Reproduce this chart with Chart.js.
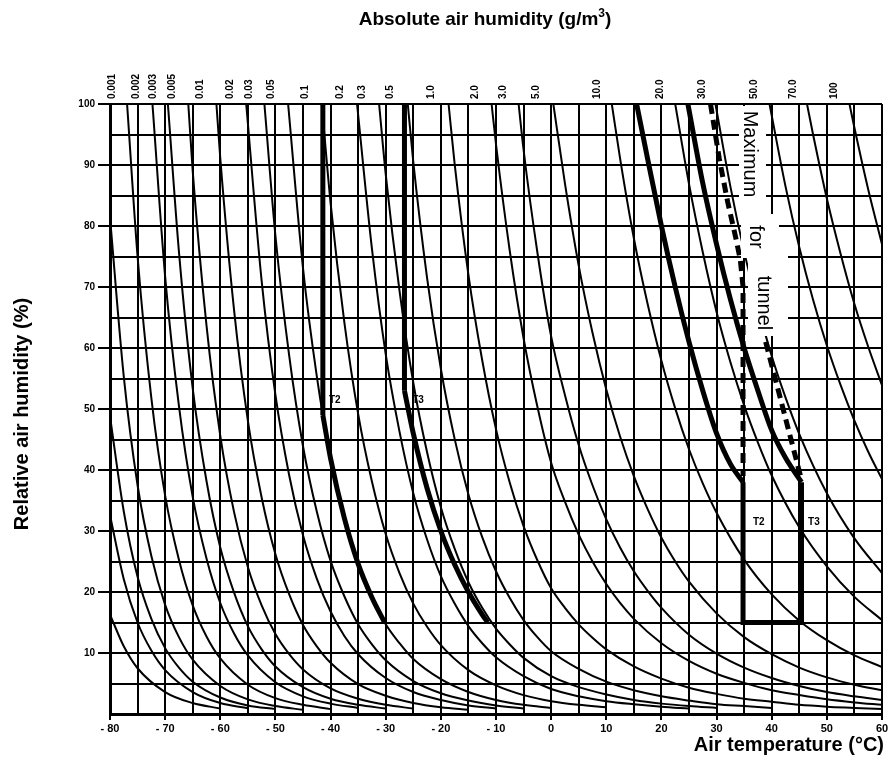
<!DOCTYPE html>
<html><head><meta charset="utf-8">
<script src="https://cdn.jsdelivr.net/npm/chart.js@4.4.1/dist/chart.umd.min.js"></script>
<style>html,body{margin:0;padding:0;background:#fff}#wrap{position:relative;width:894px;height:763px}</style>
</head><body><div id="wrap"><canvas id="c" width="894" height="763"></canvas></div>
<script>
// ---- data (air temperature °C, relative humidity %) ----
const topLabels = ['0.001','0.002','0.003','0.005','0.01','0.02','0.03','0.05','0.1','0.2','0.3','0.5','1.0','2.0','3.0','5.0','10.0','20.0','30.0','50.0','70.0','100'];
const topLabelPos = [-77.5,-73,-70,-66.5,-61.5,-56,-52.5,-48.5,-42.5,-36,-32,-27,-19.5,-11.5,-6.5,-0.5,10.5,22,29.5,39,46,53.5];

const ah00001 = [[-80,16.3],[-77.5,11.1],[-75,7.5],[-70,3.6],[-65,1.8],[-60,0.9]];
const ah00002 = [[-80,32.6],[-77.5,22.1],[-75,15.0],[-72.5,10.4],[-70,7.2],[-65,3.6],[-60,1.8],[-55,0.96]];
const ah00003 = [[-80,48.8],[-77.5,33.2],[-75,22.5],[-72.5,15.6],[-70,10.8],[-67.5,7.6],[-65,5.3],[-60,2.7],[-55,1.4],[-50,0.8]];
const ah00005 = [[-80,81.4],[-77.5,55.3],[-75,37.5],[-72.5,25.9],[-70,17.9],[-67.5,12.6],[-65,8.9],[-60,4.6],[-55,2.4],[-50,1.3],[-45,0.7]];
const ah0001 = [[-76.9,100],[-75,75],[-72.5,51.8],[-70,35.8],[-67.5,25.3],[-65,17.8],[-62.5,12.7],[-60,9.1],[-55,4.8],[-50,2.6],[-45,1.5],[-40,0.8]];
const ah0002 = [[-72.3,100],[-70,71.7],[-67.5,50.5],[-65,35.6],[-62.5,25.5],[-60,18.2],[-57.5,13.2],[-55,9.6],[-50,5.2],[-45,2.9],[-40,1.7],[-35,1.0]];
const ah0003 = [[-69.5,100],[-67.5,75.8],[-65,53.4],[-62.5,38.2],[-60,27.3],[-57.5,19.9],[-55,14.4],[-52.5,10.6],[-50,7.8],[-45,4.4],[-40,2.5],[-35,1.5],[-30,0.9]];
const ah0005 = [[-65.8,100],[-65,89],[-62.5,63.7],[-60,45.6],[-57.5,33.1],[-55,24.1],[-52.5,17.8],[-50,13.1],[-47.5,9.8],[-45,7.3],[-40,4.2],[-35,2.5],[-30,1.5],[-25,0.9]];
const ah001 = [[-60.7,100],[-60,91.1],[-57.5,66.2],[-55,48.1],[-52.5,35.5],[-50,26.2],[-47.5,19.6],[-45,14.6],[-42.5,11.1],[-40,8.4],[-35,4.9],[-30,3.0],[-25,1.8],[-20,1.1],[-15,0.7]];
const ah002 = [[-55.3,100],[-52.5,71.0],[-50,52.3],[-47.5,39.1],[-45,29.3],[-42.5,22.2],[-40,16.8],[-37.5,12.8],[-35,9.8],[-30,5.9],[-25,3.6],[-20,2.3],[-15,1.4],[-10,0.9]];
const ah003 = [[-52.0,100],[-50,78.4],[-47.5,58.7],[-45,43.9],[-42.5,33.2],[-40,25.1],[-37.5,19.3],[-35,14.7],[-32.5,11.4],[-30,8.8],[-25,5.4],[-20,3.4],[-15,2.2],[-10,1.4],[-5,0.9]];
const ah005 = [[-47.7,100],[-45,73.1],[-42.5,55.4],[-40,41.9],[-37.5,32.1],[-35,24.6],[-32.5,19.1],[-30,14.7],[-27.5,11.6],[-25,9.0],[-20,5.7],[-15,3.6],[-10,2.3],[-5,1.5],[0,1.0]];
const ah01 = [[-41.6,100],[-40,83.8],[-37.5,64.2],[-35,49.2],[-32.5,38.1],[-30,29.5],[-27.5,23.1],[-25,18.1],[-22.5,14.3],[-20,11.3],[-15,7.2],[-10,4.7],[-5,3.1],[0,2.1],[5,1.5],[10,1.1]];
const ah02 = [[-35.2,100],[-32.5,76.3],[-30,59.0],[-27.5,46.3],[-25,36.2],[-22.5,28.6],[-20,22.6],[-17.5,18.1],[-15,14.4],[-12.5,11.6],[-10,9.3],[-5,6.2],[0,4.1],[5,2.9],[10,2.1],[15,1.6],[20,1.2],[25,0.9]];
const ah03 = [[-31.2,100],[-30,88.5],[-27.5,69.4],[-25,54.3],[-22.5,42.9],[-20,33.9],[-17.5,27.1],[-15,21.6],[-12.5,17.4],[-10,14.0],[-7.5,11.4],[-5,9.2],[0,6.2],[5,4.4],[10,3.2],[15,2.3],[20,1.7],[25,1.3],[30,1.0]];
const ah05 = [[-26.0,100],[-25,90.5],[-22.5,71.5],[-20,56.6],[-17.5,45.1],[-15,36.0],[-12.5,29.0],[-10,23.4],[-7.5,19.0],[-5,15.4],[-2.5,12.6],[0,10.3],[5,7.4],[10,5.3],[15,3.9],[20,2.9],[25,2.2],[30,1.6],[35,1.3],[40,1.0]];
const ah1 = [[-18.6,100],[-17.5,90.2],[-15,72.0],[-12.5,58.0],[-10,46.7],[-7.5,37.9],[-5,30.8],[-2.5,25.2],[0,20.6],[2.5,17.4],[5,14.7],[7.5,12.5],[10,10.6],[15,7.8],[20,5.8],[25,4.3],[30,3.3],[35,2.5],[40,2.0],[45,1.5],[50,1.2],[55,1.0],[60,0.8]];
const ah2 = [[-10.8,100],[-10,93.4],[-7.5,75.9],[-5,61.6],[-2.5,50.4],[0,41.2],[2.5,34.8],[5,29.4],[7.5,25.0],[10,21.3],[12.5,18.2],[15,15.6],[20,11.6],[25,8.7],[30,6.6],[35,5.1],[40,3.9],[45,3.1],[50,2.4],[55,1.9],[60,1.5]];
const ah3 = [[-5.9,100],[-5,92.5],[-2.5,75.7],[0,61.9],[2.5,52.3],[5,44.1],[7.5,37.5],[10,31.9],[12.5,27.3],[15,23.4],[17.5,20.2],[20,17.4],[25,13.0],[30,9.9],[35,7.6],[40,5.9],[45,4.6],[50,3.6],[55,2.9],[60,2.3]];
const ah5 = [[0.4,100],[2.5,87.0],[5,73.5],[7.5,62.5],[10,53.2],[12.5,45.5],[15,39.0],[17.5,33.6],[20,28.9],[22.5,25.0],[25,21.7],[30,16.5],[35,12.6],[40,9.8],[45,7.6],[50,6.0],[55,4.8],[60,3.9]];
const ah10 = [[11.0,100],[12.5,91.1],[15,78.0],[17.5,67.2],[20,57.9],[22.5,50.1],[25,43.4],[27.5,37.8],[30,33.0],[35,25.3],[40,19.6],[45,15.3],[50,12.1],[55,9.6],[60,7.7]];
const ah20 = [[22.5,100],[25,86.9],[27.5,75.7],[30,65.9],[32.5,57.7],[35,50.6],[37.5,44.5],[40,39.1],[45,30.6],[50,24.2],[55,19.2],[60,15.4]];
const ah30 = [[29.8,100],[32.5,86.5],[35,75.8],[37.5,66.7],[40,58.7],[42.5,51.9],[45,45.9],[50,36.2],[55,28.8],[60,23.1]];
const ah50 = [[39.6,100],[42.5,86.5],[45,76.5],[47.5,67.9],[50,60.4],[52.5,53.9],[55,48.1],[57.5,43.0],[60,38.5]];
const ah70 = [[46.4,100],[47.5,95.0],[50,84.5],[52.5,75.4],[55,67.2],[57.5,60.2],[60,53.9]];
const ah100 = [[54.1,100],[55,96.1],[57.5,86.0],[60,77.0]];

// tunnel class limits (thick) and maxima (dashed)
const t2MinVert = [[-41.4,100],[-41.4,49]];
const t2MinCurve = [[-41.4,49],[-40,41.9],[-37.5,32.1],[-35,24.6],[-32.5,19.1],[-30.2,15]];
const t3MinVert = [[-26.6,100],[-26.6,53]];
const t3MinCurve = [[-26.6,53],[-25,46],[-22.5,37],[-20,30],[-17.5,24.5],[-15,20],[-12.5,16.3],[-11.5,15]];
const t2MaxCurve = [[15.5,100],[17.5,91],[20,80],[22.5,70],[25,61],[27.5,53],[30,46],[32.5,41],[34.8,38]];
const t3MaxCurve = [[24.8,100],[27.5,87],[30,77],[32.5,68],[35,60],[37.5,53],[40,46.5],[42.5,42],[45.4,38]];
const maxBox = [[34.8,38],[34.8,15],[45.4,15],[45.4,38]];
const t2MaxDash = [[28.9,100],[30.5,91],[32,84],[33.5,78],[34.3,74.5],[34.8,70],[34.8,39]];
const t3MaxDash = [[38.9,61],[41.5,52],[43.5,45],[45.4,38.4]];

const thinCurves = [ah00001,ah00002,ah00003,ah00005,ah0001,ah0002,ah0003,ah0005,ah001,ah002,ah003,ah005,ah01,ah02,ah03,ah05,ah1,ah2,ah3,ah5,ah10,ah20,ah30,ah50,ah70,ah100];

const toXY = a => a.map(p => ({x:p[0], y:p[1]}));
const datasets = [];
thinCurves.forEach(c => datasets.push({data:toXY(c), borderColor:'#000', borderWidth:2, pointRadius:0, fill:false, cubicInterpolationMode:'monotone'}));
[t2MinCurve,t3MinCurve,t2MaxCurve,t3MaxCurve].forEach(c => datasets.push({data:toXY(c), borderColor:'#000', borderWidth:5, pointRadius:0, fill:false, cubicInterpolationMode:'monotone'}));
[t2MinVert,t3MinVert,maxBox].forEach(c => datasets.push({data:toXY(c), borderColor:'#000', borderWidth:5, pointRadius:0, fill:false, tension:0}));
[t2MaxDash,t3MaxDash].forEach(c => datasets.push({data:toXY(c), borderColor:'#000', borderWidth:5, borderDash:[10,6], pointRadius:0, fill:false, tension:0}));

const FONT = '"Liberation Sans", Arial, sans-serif';

const bg = {id:'bg', beforeDraw(ch){const c=ch.ctx; c.save(); c.fillStyle='#fff'; c.fillRect(0,0,ch.width,ch.height); c.restore();}};

const annot = {
  id:'annot',
  afterDatasetsDraw(ch){
    const c = ch.ctx, xs = ch.scales.x, ys = ch.scales.y;
    c.save();
    c.fillStyle = '#fff';
    c.fillRect(739,106,27,110);
    c.fillRect(741,214,38,44);
    c.fillRect(748,256,40,80);
    c.fillStyle = '#000';
    c.font = '20px ' + FONT;
    c.textAlign = 'center'; c.textBaseline = 'middle';
    const rot = (t, x, y) => { c.save(); c.translate(x, y); c.rotate(Math.PI/2); c.fillText(t, 0, 0); c.restore(); };
    rot('Maximum', 750, 154);
    rot('for', 756, 237);
    rot('tunnel', 764, 303);
    c.font = 'bold 10px ' + FONT;
    c.textAlign = 'left';
    c.fillText('T2', xs.getPixelForValue(-40.3), ys.getPixelForValue(51.5));
    c.fillText('T3', xs.getPixelForValue(-25.2), ys.getPixelForValue(51.5));
    c.fillText('T2', xs.getPixelForValue(36.6), ys.getPixelForValue(31.5));
    c.fillText('T3', xs.getPixelForValue(46.6), ys.getPixelForValue(31.5));
    c.restore();
  },
  afterDraw(ch){
    const c = ch.ctx;
    c.save();
    c.fillStyle = '#000';
    const F = 'bold 19px ' + FONT, FS = 'bold 12px ' + FONT;
    c.textBaseline = 'alphabetic';
    const t1 = 'Absolute air humidity (g/m', t2 = ')';
    c.font = F;
    const w1 = c.measureText(t1).width, w2 = c.measureText(t2).width;
    c.font = FS;
    const ws = c.measureText('3').width;
    const total = w1 + ws + w2;
    const x0 = 485 - total/2;
    c.textAlign='left';
    c.font = F; c.fillText(t1, x0, 25);
    c.font = FS; c.fillText('3', x0 + w1, 17);
    c.font = F; c.fillText(t2, x0 + w1 + ws, 25);
    c.save(); c.translate(22, 414); c.rotate(-Math.PI/2);
    c.textAlign='center'; c.textBaseline='middle';
    c.font = 'bold 20px ' + FONT;
    c.fillText('Relative air humidity (%)', 0, 0);
    c.restore();
    c.textAlign='right'; c.textBaseline='middle';
    c.font = 'bold 20px ' + FONT;
    c.fillText('Air temperature (\u00B0C)', 884, 745);
    c.restore();
  }
};

new Chart(document.getElementById('c'), {
  type:'line',
  data:{datasets},
  plugins:[bg, annot],
  options:{
    responsive:false, animation:false, devicePixelRatio:1,
    layout:{padding:{left:0,right:12,top:0,bottom:0}},
    plugins:{legend:{display:false}, tooltip:{enabled:false}},
    scales:{
      x:{type:'linear', position:'bottom', min:-80, max:60,
        afterFit:s=>{s.height=49;},
        border:{display:true,color:'#000',width:3},
        grid:{color:'#000', lineWidth:2, tickLength:6, tickColor:ctx=>(ctx.tick && ctx.tick.value%10===0)?'#000':'rgba(0,0,0,0)'},
        ticks:{stepSize:5, autoSkip:false, maxRotation:0, color:'#000', padding:2, font:{family:FONT, size:11, weight:'bold'},
          callback:v=> (v%10===0) ? (v<0 ? '- '+Math.abs(v) : String(v)) : ''}
      },
      x2:{type:'linear', position:'top', min:-80, max:60,
        afterFit:s=>{s.height=104;},
        afterBuildTicks:s=>{s.ticks = topLabelPos.map(v=>({value:v}));},
        border:{display:false},
        grid:{display:false, drawTicks:false},
        ticks:{autoSkip:false, minRotation:90, maxRotation:90, padding:5, color:'#000', font:{family:FONT, size:10, weight:'bold'},
          callback:(v,i)=>topLabels[i]}
      },
      y:{type:'linear', min:0, max:100,
        afterFit:s=>{s.width=110;},
        border:{display:true,color:'#000',width:3},
        grid:{color:'#000', lineWidth:2, tickLength:12, tickColor:ctx=>(ctx.tick && ctx.tick.value%10===0 && ctx.tick.value>0)?'#000':'rgba(0,0,0,0)'},
        ticks:{stepSize:5, autoSkip:false, color:'#000', padding:3, font:{family:FONT, size:10, weight:'bold'},
          callback:v=> (v%10===0 && v>0) ? String(v) : ''}
      }
    }
  }
});
</script>
</body></html>
